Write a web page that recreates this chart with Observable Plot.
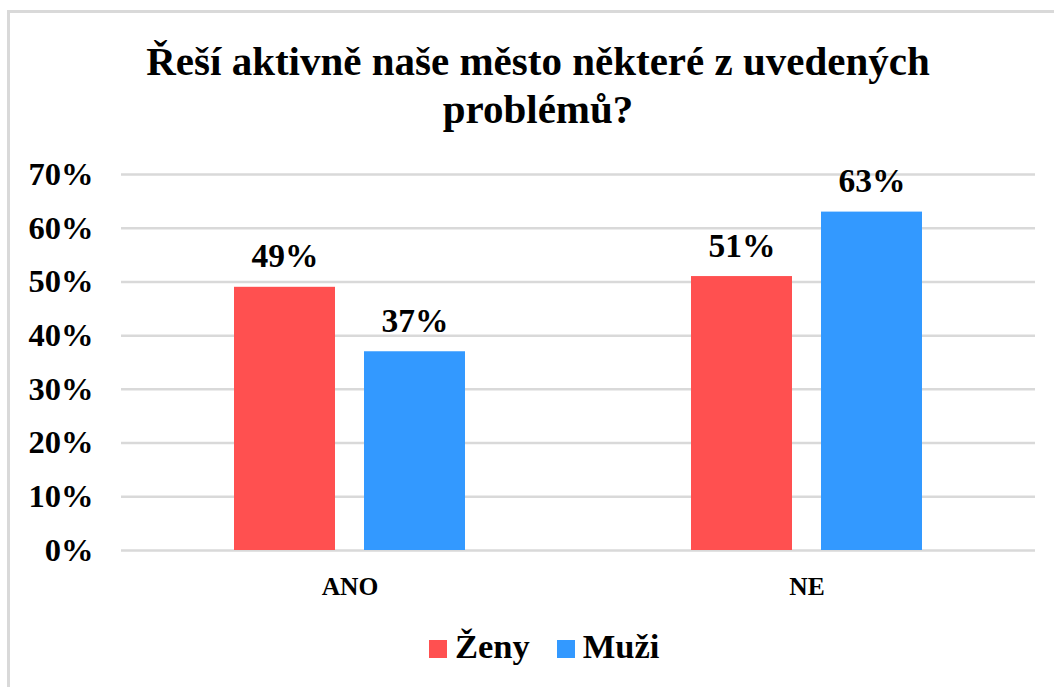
<!DOCTYPE html>
<html>
<head>
<meta charset="utf-8">
<script src="https://cdn.jsdelivr.net/npm/d3@7"></script>
<script src="https://cdn.jsdelivr.net/npm/@observablehq/plot@0.6"></script>
<style>
  html, body { margin: 0; padding: 0; background: #fff; }
  body { width: 1054px; height: 687px; position: relative; overflow: hidden;
         font-family: "Liberation Serif", Tinos, "Times New Roman", "Nimbus Roman", FreeSerif, "DejaVu Serif", serif; }
  #frame { position: absolute; left: 7px; top: 10px; width: 1100px; height: 720px;
           border: 3px solid #d9d9d9; box-sizing: border-box; }
  #title { position: absolute; left: 0; width: 1076px; top: 37px; text-align: center;
           font-size: 41px; line-height: 48px; font-weight: bold; color: #000; }
  #chart { position: absolute; left: 0; top: 150px; }
  #legend { position: absolute; left: 429px; top: 626px; font-size: 34.5px; line-height: 40px;
            font-weight: bold; white-space: nowrap; color: #000; }
  #legend .sw { display: inline-block; width: 18px; height: 18px; margin-right: 8px; }
  #legend .item { margin-right: 27px; }
</style>
</head>
<body>
<div id="frame"></div>
<div id="title">Řeší aktivně naše město některé z uvedených<br>problémů?</div>
<div id="chart"></div>
<div id="legend"></div>
<script>
const categories = ["ANO", "NE"];
const series = ["Ženy", "Muži"];
const zeny = [0.49, 0.51];
const muzi = [0.37, 0.63];
const yTicks = [0, 0.1, 0.2, 0.3, 0.4, 0.5, 0.6, 0.7];
const colors = ["#FF5050", "#3399FF"];

const data = [];
categories.forEach((c, i) => {
  data.push({cat: c, series: series[0], value: zeny[i]});
  data.push({cat: c, series: series[1], value: muzi[i]});
});

const pct = d => Math.round(d * 100) + "%";
const serifStack = "'Liberation Serif', Tinos, 'Times New Roman', 'Nimbus Roman', FreeSerif, 'DejaVu Serif', serif";

const chart = Plot.plot({
  width: 1054,
  height: 460,
  marginLeft: 120,
  marginRight: 19,
  marginTop: 24,
  marginBottom: 60,
  style: {fontFamily: serifStack, color: "#000", background: "transparent"},
  fx: {domain: categories, padding: 0, label: null},
  x: {domain: series, paddingInner: 0.225, paddingOuter: 0.86, axis: null},
  y: {domain: [0, 0.7], label: null},
  color: {domain: series, range: colors},
  marks: [
    Plot.ruleY(yTicks, {stroke: "#d9d9d9", strokeWidth: 2.5}),
    Plot.axisY({ticks: yTicks, tickFormat: pct, tickSize: 0, tickPadding: 28, fontSize: 32.5, fontWeight: "bold", label: null}),
    Plot.axisFx({anchor: "bottom", tickSize: 0, tickPadding: 26, fontSize: 25.5, fontWeight: "bold", label: null}),
    Plot.barY(data, {fx: "cat", x: "series", y: "value", fill: "series"}),
    Plot.text(data, {fx: "cat", x: "series", y: "value", text: d => pct(d.value), lineAnchor: "bottom", dy: -20, fontSize: 33.5, fontWeight: "bold", fill: "#000"})
  ]
});
document.getElementById("chart").appendChild(chart);

const legend = document.getElementById("legend");
series.forEach((s, i) => {
  const item = document.createElement("span");
  item.className = "item";
  const sw = document.createElement("span");
  sw.className = "sw";
  sw.style.background = colors[i];
  item.appendChild(sw);
  item.appendChild(document.createTextNode(s));
  legend.appendChild(item);
});
</script>
</body>
</html>
